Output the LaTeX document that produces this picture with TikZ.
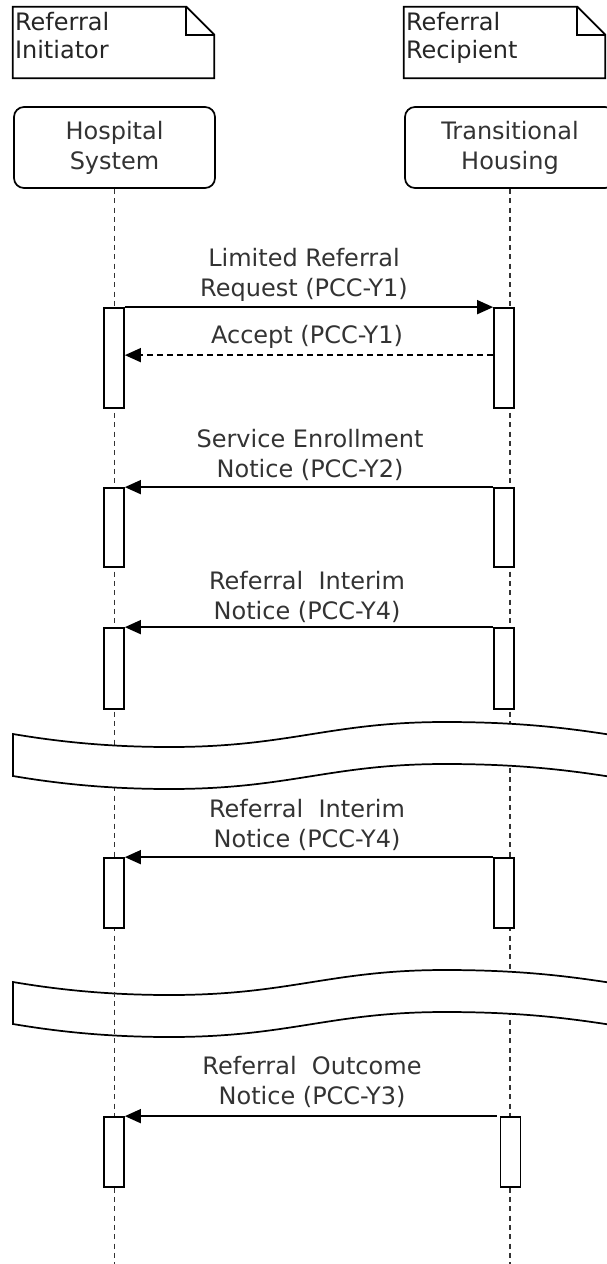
\documentclass[tikz,border=0pt]{standalone}
\usepackage{fontspec}
\setmainfont{DejaVu Sans}
\usetikzlibrary{arrows.meta,calc}
\begin{document}
\begin{tikzpicture}[x=0.75pt,y=-0.75pt,
  txt/.style={text=black!80, font=\fontsize{18}{22.5}\selectfont, align=center, inner sep=0pt},
  notetxt/.style={text=black!85, font=\fontsize{18}{21}\selectfont, align=left, inner sep=0pt, anchor=north west},
  notebg/.style={minimum width=150.75pt, minimum height=53.25pt, inner sep=0pt},
  noteline/.style={draw, line width=1.3pt, line join=miter},
  head/.style={draw, line width=1.3pt, rounded corners=7.5pt, fill=white, minimum height=60.75pt, txt},
  lifeline/.style={line width=0.9pt, black!80, dash pattern=on 3.75pt off 3.25pt},
  act/.style={draw, line width=1.3pt, fill=white, minimum width=15pt, inner sep=0pt},
  msg/.style={line width=1.2pt, -{Triangle[length=12pt, width=10.5pt]}},
  reply/.style={msg, dash pattern=on 4.5pt off 3pt},
  band/.style={draw, line width=1.3pt, fill=white}
]
\clip (0,0) rectangle (607,1264);
\fill[white] (0,0) rectangle (607,1264);

% notes
\node[notebg] (n1) at (113.5,42.5) {};
\draw[noteline] (n1.north west) -- ($(n1.north east)+(-28,0)$) -- ($(n1.north east)+(0,28)$) -- (n1.south east) -- (n1.south west) -- cycle;
\draw[noteline] ($(n1.north east)+(-28,0)$) |- ($(n1.north east)+(0,28)$);
\node[notetxt] (t1) at ($(n1.north west)+(2,5)$) {Referral\\Initiator};

\node[notebg] (n2) at (504.5,42.5) {};
\draw[noteline] (n2.north west) -- ($(n2.north east)+(-28,0)$) -- ($(n2.north east)+(0,28)$) -- (n2.south east) -- (n2.south west) -- cycle;
\draw[noteline] ($(n2.north east)+(-28,0)$) |- ($(n2.north east)+(0,28)$);
\node[notetxt] (t2) at ($(n2.north west)+(2,5)$) {Referral\\Recipient};

% heads
\node[head, minimum width=150.75pt] (h1) at (114.5,147.5) {Hospital\\System};
\node[head, minimum width=157.5pt] (h2) at (510,147.5) {Transitional\\Housing};

\coordinate (e1) at (114.5,1270);
\coordinate (e2) at (510,1270);

% right lifeline, band 2, left lifeline, band 1
\draw[lifeline] (h2.south) -- (e2);
\begin{scope}[shift={(0,248)}]
\draw[band] (13,734) .. controls (60,742) and (110,747) .. (170,747) .. controls (290,747) and (330,722) .. (445,722) .. controls (530,722) and (580,730) .. (625,737) -- (625,779) .. controls (580,772) and (530,764) .. (445,764) .. controls (330,764) and (290,789) .. (170,789) .. controls (110,789) and (60,784) .. (13,776) -- cycle;
\end{scope}
\draw[lifeline] (h1.south) -- (e1);
\draw[band] (13,734) .. controls (60,742) and (110,747) .. (170,747) .. controls (290,747) and (330,722) .. (445,722) .. controls (530,722) and (580,730) .. (625,737) -- (625,779) .. controls (580,772) and (530,764) .. (445,764) .. controls (330,764) and (290,789) .. (170,789) .. controls (110,789) and (60,784) .. (13,776) -- cycle;

% activations
\node[act, minimum height=75pt] (a1L) at (114,358) {};
\node[act, minimum height=75pt] (a1R) at (504,358) {};
\node[act, minimum height=59.25pt] (a2L) at (114,527.5) {};
\node[act, minimum height=59.25pt] (a2R) at (504,527.5) {};
\node[act, minimum height=60.75pt] (a3L) at (114,668.5) {};
\node[act, minimum height=60.75pt] (a3R) at (504,668.5) {};
\node[act, minimum height=52.5pt] (a4L) at (114,893) {};
\node[act, minimum height=52.5pt] (a4R) at (504,893) {};
\node[act, minimum height=52.5pt] (a5L) at (114,1152) {};
\node[act, minimum height=52.5pt] (a5R) at (510.5,1152) {};

% messages
\draw[msg] (a1L.north east) -- (a1R.north west);
\draw[reply] ($(a1R.north west)+(0,48)$) -- ($(a1L.north east)+(0,48)$);
\draw[msg] (a2R.north west) -- (a2L.north east);
\draw[msg] (a3R.north west) -- (a3L.north east);
\draw[msg] (a4R.north west) -- (a4L.north east);
\draw[msg] ($(a5R.north west)+(-3,0)$) -- (a5L.north east);

% labels
\node[txt] (l1) at (304,275) {Limited Referral\\Request (PCC-Y1)};
\node[txt] (l2) at (307,337) {Accept (PCC-Y1)};
\node[txt] (l3) at (310,454.5) {Service Enrollment\\Notice (PCC-Y2)};
\node[txt] (l4) at (307,596.5) {Referral~~Interim\\Notice (PCC-Y4)};
\node[txt] (l5) at (307,825) {Referral~~Interim\\Notice (PCC-Y4)};
\node[txt] (l6) at (312,1081.5) {Referral~~Outcome\\Notice (PCC-Y3)};
\end{tikzpicture}
\end{document}
